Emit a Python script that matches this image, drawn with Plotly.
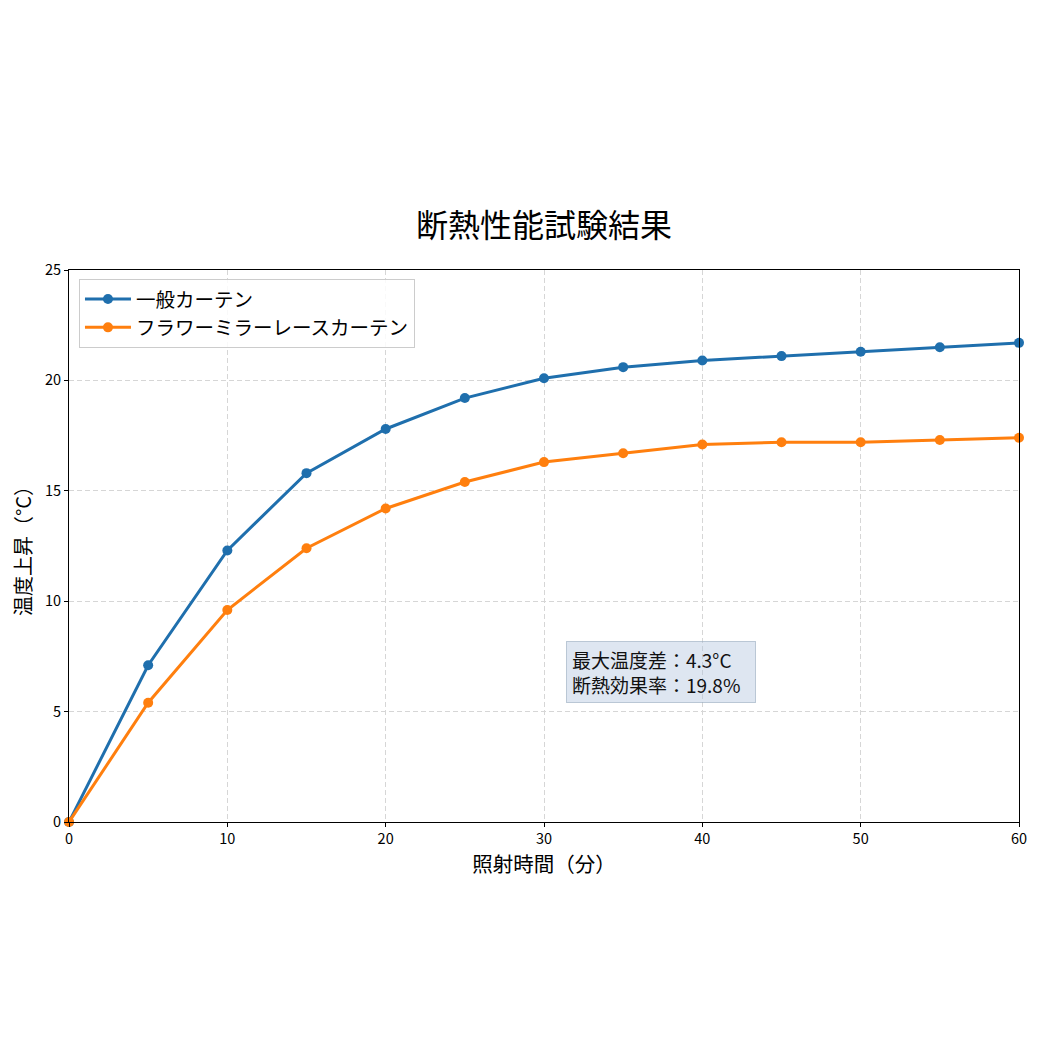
import plotly.graph_objects as go

# Data
minutes = [0, 5, 10, 15, 20, 25, 30, 35, 40, 45, 50, 55, 60]
normal_curtain = [0, 7.1, 12.3, 15.8, 17.8, 19.2, 20.1, 20.6, 20.9, 21.1, 21.3, 21.5, 21.7]
flower_lace = [0, 5.4, 9.6, 12.4, 14.2, 15.4, 16.3, 16.7, 17.1, 17.2, 17.2, 17.3, 17.4]
series_names = ["一般カーテン", "フラワーミラーレースカーテン"]
series_colors = ["#1f6fad", "#ff7f0e"]

font_family = "Noto Sans CJK JP"

fig = go.Figure()
for name, vals, col in zip(series_names, [normal_curtain, flower_lace], series_colors):
    fig.add_trace(go.Scatter(
        x=minutes, y=vals, name=name, mode="lines+markers",
        line=dict(color=col, width=3),
        marker=dict(color=col, size=10),
        cliponaxis=False,
    ))

max_diff = max(a - b for a, b in zip(normal_curtain, flower_lace))
eff = max_diff / normal_curtain[-1] * 100

fig.add_annotation(
    xref="paper", yref="paper", x=0.523, y=0.327,
    xanchor="left", yanchor="top", align="left", showarrow=False,
    text=f"最大温度差：{max_diff:.1f}°C<br>断熱効果率：{eff:.1f}%",
    font=dict(family=font_family, size=19, color="#111"),
    width=178, height=50,
    bgcolor="rgba(176,196,222,0.42)", bordercolor="rgba(150,170,190,0.6)",
    borderwidth=1, borderpad=5,
)

axis_common = dict(
    showline=True, linecolor="black", linewidth=1, mirror=True,
    ticks="outside", ticklen=4, tickcolor="black",
    showgrid=True, gridcolor="#d6d6d6", griddash="5px,3px", gridwidth=1,
    zeroline=False, tickfont=dict(family=font_family, size=14.5, color="black"),
)

# page is offset by the browser body margin (~8px), so margins compensate
fig.update_layout(
    width=1040, height=1040,
    paper_bgcolor="white", plot_bgcolor="white",
    margin=dict(l=61, r=29, t=262, b=226),
    title=dict(text="断熱性能試験結果", xref="paper", x=0.5, xanchor="center",
               y=1 - 218 / 1040, yanchor="middle",
               font=dict(family=font_family, size=32, color="black")),
    xaxis=dict(range=[0, 60], tickvals=list(range(0, 61, 10)),
               title=dict(text="照射時間（分）", font=dict(family=font_family, size=20.5, color="black"), standoff=6),
               **axis_common),
    yaxis=dict(range=[0, 25], tickvals=list(range(0, 26, 5)),
               title=dict(text="温度上昇（°C）", font=dict(family=font_family, size=20, color="black"), standoff=10),
               **axis_common),
    legend=dict(x=0.0105, y=0.984, xanchor="left", yanchor="top",
                bgcolor="rgba(255,255,255,0.85)", bordercolor="#cccccc", borderwidth=1,
                itemwidth=46,
                font=dict(family=font_family, size=19.5, color="black")),
    showlegend=True,
)

fig.write_html("out.html")
